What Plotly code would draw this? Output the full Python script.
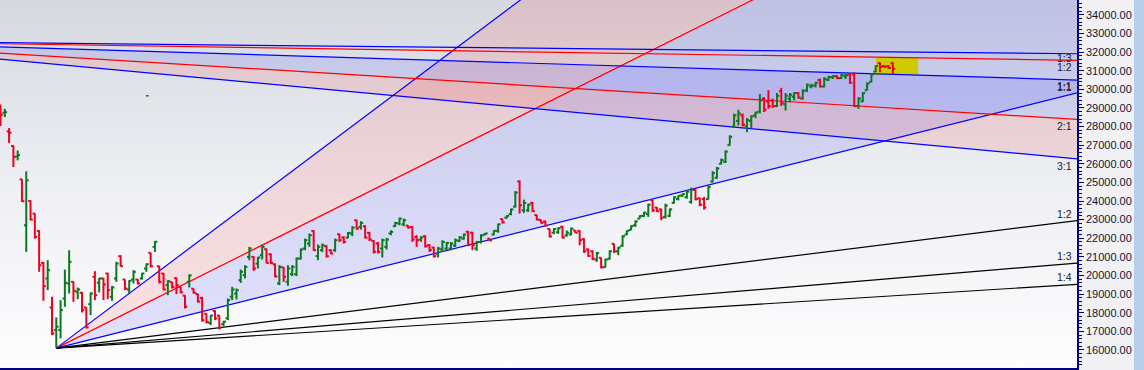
import plotly.graph_objects as go

# ---------------- data (bar index 0 = first visible session) ----------------
open_ = [29100, 28739, 27738, 26952, 26398, 25165, 22698, 24003, 23324, 22395,
         20679, 19839, 18284, 17070, 17070, 18767, 19571, 19660, 19125, 19071,
         18284, 18463, 19929, 19607, 19839, 20107, 18857, 19839, 21036, 19786,
         19250, 19786, 19786, 19839, 20375, 21215, 21537, 20500, 20107, 19482,
         19640, 19860, 19380, 18920, 19660, 19290, 19000, 18800, 17950, 17450,
         18100, 17850, 17390, 17700, 18860, 19030, 19750, 20020, 21000, 21002,
         20644, 21091, 21413, 21145, 20600, 19572, 20430, 19661, 20073, 20073,
         20912, 21449, 21716, 22396, 21037, 21359, 21574, 21359, 21359, 22217,
         22038, 22038, 22253, 22967, 22610, 22646, 22288, 21859, 21716, 21449,
         21538, 22253, 22646, 22789, 22753, 22681, 22610, 22074, 21931, 22110,
         21627, 21502, 21145, 21400, 21450, 21450, 21600, 21850, 21980, 22350,
         22300, 21450, 21800, 22200, 21980, 22200, 22400, 23030, 23100, 23300,
         23700, 25050, 23500, 23500, 23900, 23250, 22990, 22900, 22500, 22300,
         22320, 22620, 22150, 22200, 22420, 22400, 21950, 21400, 21300, 20850,
         20950, 20450, 20900, 21700, 21300, 21600, 22200, 22450, 22700, 23050,
         23200, 23300, 24050, 23650, 23550, 23150, 23200, 23900, 24100, 24300,
         24200, 23950, 24600, 24150, 24100, 24100, 25050, 25250, 26000, 26100,
         27000, 28000, 28300, 28600, 28000, 28300, 28600, 28800, 29500, 29350,
         29400, 29100, 29900, 29200, 29500, 29600, 29800, 29500, 29950, 30150,
         30200, 30500, 30150, 30500, 30650, 30700, 30600, 30700, 30800, 30800,
         29100, 29350, 29950, 30400, 30950, 31400, 31250, 31250, 31400]
high = [29185, 28953, 27917, 26987, 26719, 25180, 25593, 24039, 23340, 22431,
        20733, 20822, 18857, 17749, 18678, 20322, 21358, 19680, 19357, 19125,
        18300, 19089, 20233, 19875, 19875, 20143, 19446, 20733, 21090, 19800,
        19750, 20286, 19800, 20143, 20643, 21230, 21859, 20520, 20143, 19750,
        19661, 19893, 19393, 18946, 20054, 19303, 19035, 18857, 17963, 17874,
        18142, 17874, 17570, 18767, 19393, 19303, 20322, 20554, 21537, 21037,
        21002, 21663, 21449, 21180, 20650, 20555, 20466, 20555, 20555, 20966,
        21449, 21984, 22253, 22431, 21663, 21716, 21627, 21395, 21984, 22253,
        22110, 22342, 22646, 23003, 22914, 22699, 22342, 21895, 21806, 21984,
        22020, 22431, 22878, 23110, 23057, 22699, 22646, 22163, 22110, 22163,
        21681, 21538, 21538, 21895, 21806, 21800, 21985, 22110, 22253, 22396,
        22342, 21860, 22217, 22288, 22000, 22431, 22789, 23057, 23235, 23593,
        24540, 25112, 24075, 23861, 23950, 23271, 23003, 22950, 22521, 22550,
        22590, 22670, 22420, 22574, 22430, 22431, 22000, 21449, 21359, 21270,
        20966, 20912, 21359, 21716, 21538, 22163, 22431, 22700, 22967, 23235,
        23414, 23861, 24075, 23682, 23593, 23861, 23593, 24254, 24308, 24397,
        24576, 24718, 24665, 24182, 24218, 24850, 25600, 25830, 26280, 26720,
        27530, 28690, 28900, 28700, 28450, 28600, 28800, 29750, 29580, 29950,
        29500, 29800, 30080, 29800, 29800, 29850, 29850, 30000, 30300, 30300,
        30400, 30580, 30650, 30720, 30750, 30750, 30820, 30830, 30830, 30920,
        29580, 29850, 30380, 30865, 31280, 31450, 31300, 31300, 31450]
low = [28024, 28506, 27112, 25826, 26183, 23950, 21269, 22967, 21984, 20197,
       18642, 19214, 16801, 16100, 16623, 18320, 19035, 18588, 18731, 18017,
       17159, 17874, 18678, 19089, 18678, 18731, 18642, 19660, 20465, 19214,
       18999, 19571, 19518, 19786, 20197, 20429, 21269, 19571, 19214, 18946,
       19303, 19000, 19035, 18231, 19357, 19035, 18553, 17517, 17427, 17338,
       17605, 17105, 17284, 17605, 18678, 18714, 19607, 19839, 20822, 20251,
       20376, 20859, 20644, 20608, 19900, 19483, 19661, 19447, 19965, 19965,
       20859, 21359, 21538, 21323, 20823, 21270, 20966, 21145, 21270, 21806,
       21716, 21984, 22110, 22467, 22467, 21984, 21859, 21180, 21180, 20966,
       21395, 22163, 22610, 22699, 22646, 22521, 21806, 21538, 21806, 21502,
       21270, 20966, 20966, 21270, 21359, 21350, 21538, 21806, 21931, 21573,
       21359, 21323, 21716, 22163, 21860, 22163, 22300, 22789, 23057, 23235,
       23646, 23325, 23361, 23414, 23414, 22967, 22800, 22646, 22038, 22220,
       22240, 21990, 22090, 22160, 22270, 21627, 21216, 21002, 20823, 20734,
       20376, 20430, 20850, 21200, 21091, 21538, 22163, 22431, 22610, 23040,
       23146, 23146, 23414, 23414, 22967, 23057, 23146, 23861, 24040, 24218,
       24129, 23860, 24039, 23717, 23539, 24075, 25000, 25200, 25970, 26040,
       26990, 27970, 28060, 28000, 27700, 27900, 28450, 28700, 28780, 28950,
       29000, 29050, 29100, 28860, 29300, 29400, 29500, 29450, 29850, 30050,
       30100, 30100, 30100, 30450, 30550, 30550, 30550, 30550, 30300, 29040,
       28950, 29310, 29935, 30380, 30920, 30920, 31150, 31100, 30830]
close = [28631, 28774, 27666, 26362, 26469, 23990, 25111, 23002, 22073, 20554,
         19428, 20286, 16891, 17248, 18142, 19607, 20733, 19178, 19250, 18142,
         17212, 19035, 18946, 19839, 19518, 19214, 19357, 20643, 20500, 19303,
         19714, 20197, 19571, 20107, 20608, 20500, 21805, 19660, 19250, 19697,
         19390, 19480, 19100, 18320, 20010, 19070, 18600, 17600, 17500, 17850,
         17700, 17200, 17520, 18680, 19250, 19210, 20200, 20460, 21450, 20376,
         20966, 21538, 20680, 20680, 19950, 20466, 19929, 20376, 20466, 20912,
         21395, 21895, 22163, 21359, 21538, 21627, 21037, 21180, 21895, 21895,
         21806, 22288, 22574, 22521, 22824, 22038, 21931, 21270, 21270, 21895,
         21931, 22342, 22824, 23057, 22967, 22574, 21931, 21895, 22038, 21574,
         21359, 21037, 21449, 21800, 21750, 21720, 21900, 22050, 22200, 21650,
         21627, 21800, 22150, 22260, 21880, 22400, 22750, 22850, 23200, 23550,
         24450, 23771, 23900, 23800, 23450, 23000, 22830, 22680, 22100, 22500,
         22540, 22040, 22300, 22520, 22300, 21900, 21300, 21050, 20900, 21200,
         20450, 20850, 21300, 21300, 21500, 22100, 22400, 22650, 22900, 23200,
         23380, 23800, 23500, 23450, 23100, 23750, 23550, 24200, 24280, 24380,
         24500, 24600, 24100, 23800, 23650, 24750, 25500, 25750, 26200, 26650,
         27450, 28600, 28700, 28100, 28350, 28550, 28750, 29400, 28900, 29100,
         29100, 29650, 29250, 29650, 29700, 29800, 29550, 29900, 30250, 30200,
         30350, 30150, 30550, 30650, 30700, 30600, 30780, 30750, 30350, 29100,
         29500, 29800, 30300, 30800, 31250, 31200, 31200, 31150, 31100]
bar_index = list(range(len(close)))

# Gann fans: origin (bar index, price), price move per bar of the 1x1 line
asc_origin = (13, 16100)
asc_unit = 57.6
asc_ratios = ["3:1", "2:1", "1:1", "1:2", "1:3", "1:4"]
asc_colors = ["#0000ff", "#ff0000", "#0000ff", "#000000", "#000000", "#000000"]
asc_labelled = ["1:1", "1:2", "1:3", "1:4"]

desc_origin = (-47, 32613)
desc_unit = -7.1
desc_ratios = ["1:3", "1:2", "1:1", "2:1", "3:1"]
desc_colors = ["#0000ff", "#ff0000", "#0000ff", "#ff0000", "#0000ff"]
desc_label_shift = [-4, -7, -7, -7, -7]

# highlighted zone (yellow box)
zone_x = [204.1, 213.9]
zone_y = [30767, 31689]

# stray green dash
stray_x = [33.9, 34.5]
stray_y = [29650, 29650]

x_range = [-0.12, 250.93]
y_range = [15033, 34795]
x_far = 262
tick_half = 0.55  # open/close tick length in bar units

# ---------------- helpers ----------------
def ratio_value(r):
    a, b = r.split(":")
    return float(a) / float(b)

def fan_y(origin, unit, r, x):
    return origin[1] + unit * ratio_value(r) * (x - origin[0])

fig = go.Figure()

# background gradient
fig.add_trace(go.Scatter(
    x=[x_range[0], x_range[1], x_range[1], x_range[0], x_range[0]],
    y=[y_range[0], y_range[0], y_range[1], y_range[1], y_range[0]],
    mode="lines", line=dict(width=0), fill="toself",
    fillgradient=dict(type="vertical",
                      colorscale=[[0, "#fdfdfe"], [0.5, "#eeeff3"], [1, "#d5d8e0"]]),
    hoverinfo="skip", showlegend=False))

def add_band(origin, unit, r1, r2, color):
    xs = [origin[0], x_far, x_far, origin[0]]
    ys = [origin[1], fan_y(origin, unit, r1, x_far), fan_y(origin, unit, r2, x_far), origin[1]]
    fig.add_trace(go.Scatter(x=xs, y=ys, mode="lines", line=dict(width=0),
                             fill="toself", fillcolor=color,
                             hoverinfo="skip", showlegend=False))

pink = "rgba(255,0,0,0.10)"
blue = "rgba(0,0,255,0.10)"
add_band(asc_origin, asc_unit, "3:1", "2:1", pink)
add_band(asc_origin, asc_unit, "2:1", "1:1", blue)
add_band(desc_origin, desc_unit, "1:1", "2:1", blue)
add_band(desc_origin, desc_unit, "2:1", "3:1", pink)

# yellow zone
fig.add_trace(go.Scatter(
    x=[zone_x[0], zone_x[1], zone_x[1], zone_x[0], zone_x[0]],
    y=[zone_y[0], zone_y[0], zone_y[1], zone_y[1], zone_y[0]],
    mode="lines", line=dict(width=0), fill="toself", fillcolor="#cccc00",
    hoverinfo="skip", showlegend=False))

# fan lines
for r, c in zip(asc_ratios, asc_colors):
    fig.add_trace(go.Scatter(x=[asc_origin[0], x_far],
                             y=[asc_origin[1], fan_y(asc_origin, asc_unit, r, x_far)],
                             mode="lines", line=dict(color=c, width=1.2),
                             hoverinfo="skip", showlegend=False))
for r, c in zip(desc_ratios, desc_colors):
    fig.add_trace(go.Scatter(x=[desc_origin[0], x_far],
                             y=[desc_origin[1], fan_y(desc_origin, desc_unit, r, x_far)],
                             mode="lines", line=dict(color=c, width=1.2),
                             hoverinfo="skip", showlegend=False))

# stray dash
fig.add_trace(go.Scatter(x=stray_x, y=stray_y, mode="lines",
                         line=dict(color="#008000", width=1.5),
                         hoverinfo="skip", showlegend=False))

# price bars (OHLC style: vertical range, open tick left, close tick right)
def bar_path(up):
    xs, ys = [], []
    for i, o, h, l, c in zip(bar_index, open_, high, low, close):
        if (c >= o) != up:
            continue
        xs += [i, i, None, i - tick_half, i, None, i, i + tick_half, None]
        ys += [l, h, None, o, o, None, c, c, None]
    return xs, ys

for up, col in [(True, "#0b7a1e"), (False, "#f00020")]:
    bx, by = bar_path(up)
    fig.add_trace(go.Scatter(x=bx, y=by, mode="lines", connectgaps=False,
                             line=dict(color=col, width=2),
                             hoverinfo="skip", showlegend=False))

# fan labels
label_x = x_range[1] - 0.6
annotations = []
for r in asc_labelled:
    annotations.append(dict(x=label_x, y=fan_y(asc_origin, asc_unit, r, x_range[1]),
                            text=r, showarrow=False, xanchor="right", yanchor="middle",
                            yshift=7, font=dict(family="Liberation Sans", size=10.5, color="#222222")))
for r, s in zip(desc_ratios, desc_label_shift):
    annotations.append(dict(x=label_x, y=fan_y(desc_origin, desc_unit, r, x_range[1]),
                            text=r, showarrow=False, xanchor="right", yanchor="middle",
                            yshift=s, font=dict(family="Liberation Sans", size=10.5, color="#222222")))

W, H = 1144, 370
plot_right = 1077
fig.update_layout(
    width=W, height=H, template="none",
    margin=dict(l=0, r=W - plot_right, t=0, b=2, pad=0),
    paper_bgcolor="#f1f1f4", plot_bgcolor="#ffffff",
    showlegend=False, annotations=annotations,
    shapes=[dict(type="rect", xref="paper", yref="paper",
                 x0=1134 / plot_right, x1=W / plot_right, y0=-0.02, y1=1.02,
                 fillcolor="#b7cfe9", line=dict(width=0), layer="above")],
    xaxis=dict(range=x_range, showgrid=False, zeroline=False, showticklabels=False,
               ticks="outside", ticklen=4, tickcolor="#000080", tick0=0.28, dtick=3.49,
               showline=True, linecolor="#000080", linewidth=1.5, fixedrange=True),
    yaxis=dict(range=y_range, side="right", showgrid=False, zeroline=False,
               ticks="outside", ticklen=5, tickcolor="#000080", tick0=0, dtick=1000,
               tickformat=".2f", tickfont=dict(family="Liberation Sans", size=11, color="#141430"),
               showline=True, linecolor="#000080", linewidth=1.5,
               minor=dict(dtick=200, ticks="outside", ticklen=3, tickcolor="#000080"),
               fixedrange=True),
)
fig.write_html("out.html")
